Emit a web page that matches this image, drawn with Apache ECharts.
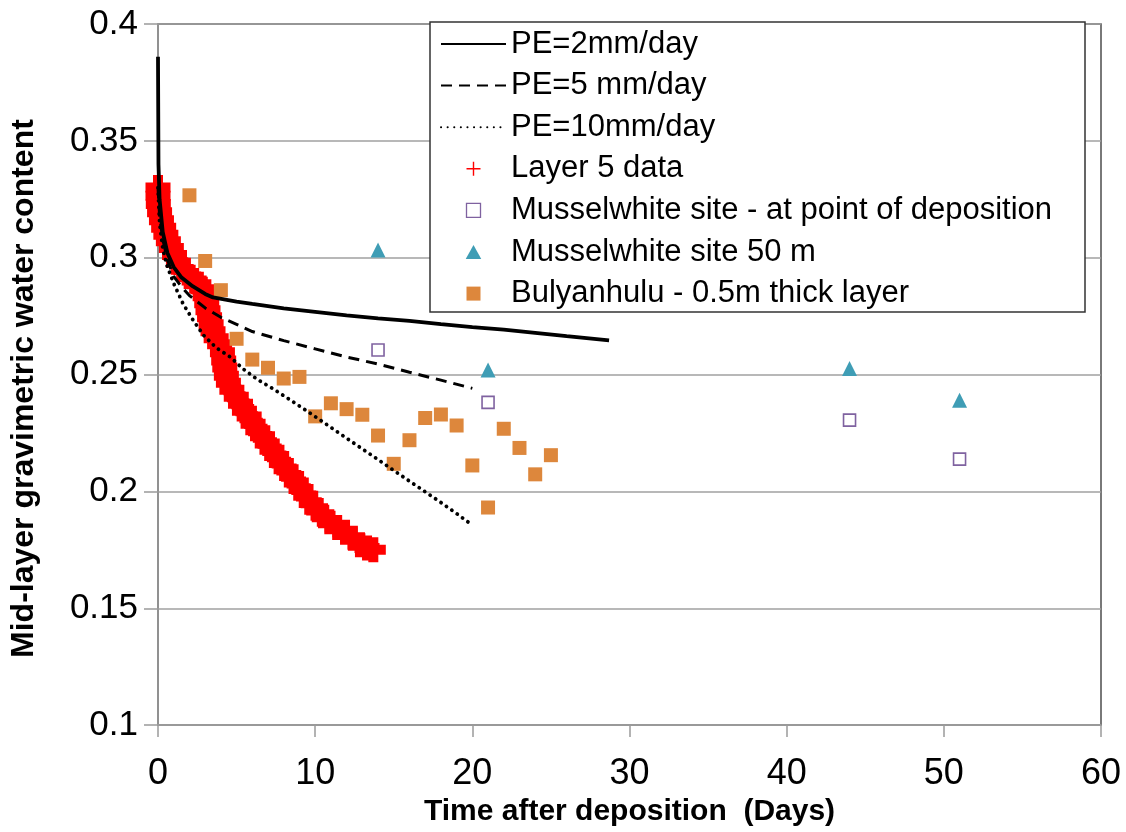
<!DOCTYPE html>
<html><head><meta charset="utf-8">
<script src="https://cdn.jsdelivr.net/npm/echarts@6/dist/echarts.min.js"></script>
<style>html,body{margin:0;padding:0;background:#fff}#c{width:1126px;height:832px}</style>
</head><body><div id="c"></div>
<script>
// ---- data ----
const xTickValues = [0, 10, 20, 30, 40, 50, 60];
const yTickValues = [0.1, 0.15, 0.2, 0.25, 0.3, 0.35, 0.4];
const yTickLabels = ['0.1', '0.15', '0.2', '0.25', '0.3', '0.35', '0.4'];

const seriesNames = ['PE=2mm/day', 'PE=5 mm/day', 'PE=10mm/day', 'Layer 5 data',
  'Musselwhite site - at point of deposition', 'Musselwhite site 50 m', 'Bulyanhulu - 0.5m thick layer'];

const pe2 = [[0,0.386],[0.03,0.340],[0.1,0.325],[0.3,0.311],[0.6,0.302],[1,0.296],[1.5,0.2915],[2.2,0.2878],
  [3,0.2845],[3.5,0.2830],[5,0.2812],[6,0.2802],[8,0.2783],[10,0.2768],[12,0.2753],[14,0.2740],[16,0.2730],
  [18,0.2716],[20,0.2703],[22,0.2692],[24,0.2678],[26,0.2664],[28.7,0.2646]];

const pe5 = [[0,0.330],[0.1,0.318],[0.3,0.308],[0.6,0.299],[1,0.292],[1.5,0.2875],[2,0.2838],[3,0.2785],
  [4,0.2745],[5,0.2715],[6,0.2684],[8,0.2645],[10,0.2610],[12,0.2575],[14,0.2545],[16,0.2510],[18,0.2476],[20,0.2441]];

const pe10 = [[0,0.330],[0.1,0.315],[0.3,0.304],[0.55,0.297],[1,0.289],[1.6,0.2802],[2.25,0.2731],[2.9,0.2668],
  [3.7,0.2615],[4.6,0.2575],[5.4,0.2525],[6.3,0.2480],[7.3,0.2440],[8.4,0.2392],[9.5,0.2343],[10.5,0.2297],
  [11.6,0.2246],[12.6,0.2200],[13.7,0.2150],[14.8,0.2099],[15.8,0.2053],[16.9,0.2003],[17.9,0.1957],
  [18.9,0.1910],[19.85,0.1863]];

const layer5 = [[0,0.3300],[0,0.3265],[0.02,0.3230],[0.1,0.3195],[0.22,0.3160],[0.36,0.3128],[0.5,0.3098],
  [0.66,0.3070],[0.85,0.3042],[1.05,0.3012],[1.3,0.2978],[1.6,0.2948],[1.95,0.2920],[2.3,0.2902],[2.6,0.2886],
  [2.85,0.2865],[3.0,0.2835],[3.1,0.2805],[3.18,0.2775],[3.28,0.2745],[3.38,0.2715],[3.5,0.2685],[3.7,0.2655],
  [3.92,0.2630],[4.1,0.2595],[4.18,0.2560],[4.25,0.2530],[4.35,0.2495],[4.48,0.2465],[4.7,0.2435],[4.98,0.2405],
  [5.25,0.2375],[5.5,0.2345],[5.8,0.2320],[6.05,0.2290],[6.35,0.2262],[6.65,0.2236],[6.95,0.2205],[7.25,0.2178],
  [7.55,0.2151],[7.85,0.2122],[8.15,0.2095],[8.5,0.2066],[8.8,0.2038],[9.1,0.2010],[9.4,0.1981],[9.75,0.1950],
  [10.1,0.1922],[10.5,0.1896],[10.9,0.1870],[11.4,0.1846],[11.9,0.1825],[12.4,0.1800],[12.85,0.1772],
  [13.3,0.1758],[13.7,0.1750]];

const mwDeposition = [[14,0.2605],[21,0.2381],[44,0.2305],[51,0.2138]];
const mw50m = [[14,0.3033],[21,0.2520],[44,0.2526],[51,0.2390]];
const bulyanhulu = [[2,0.3267],[3,0.2986],[4,0.2861],[5,0.2653],[6,0.2564],[7,0.2529],[8,0.2483],[9,0.2490],
  [10,0.2321],[11,0.2377],[12,0.2352],[13,0.2328],[14,0.2239],[15,0.2118],[16,0.2219],[17,0.2314],[18,0.2329],
  [19,0.2282],[20,0.2111],[21,0.1931],[22,0.2268],[23,0.2186],[24,0.2073],[25,0.2155]];

// ---- chart ----
const FONT = '"Liberation Sans", Arial, sans-serif';
const thickPlus = 'path://M30,0H70V30H100V70H70V100H30V70H0V30H30Z';
const thinPlus = 'path://M9,0H11V9H20V11H11V20H9V11H0V9H9Z';
const squareIcon = 'path://M0,0H10V10H0Z';
const triangleIcon = 'path://M5,0L10,9H0Z';
const hideDot = {color: 'rgba(0,0,0,0)', borderWidth: 0, opacity: 0};

const chart = echarts.init(document.getElementById('c'), null, {renderer: 'canvas'});
chart.setOption({
  animation: false,
  backgroundColor: '#fff',
  grid: {left: 158, right: 25, top: 24, bottom: 101, show: true, borderColor: '#4d4d4d', borderWidth: 1.5,
         containLabel: false},
  xAxis: {
    type: 'value', min: xTickValues[0], max: xTickValues[xTickValues.length - 1], interval: 10,
    name: 'Time after deposition  (Days)', nameLocation: 'middle', nameGap: 67,
    nameTextStyle: {fontFamily: FONT, fontSize: 30, fontWeight: 'bold', color: '#000'},
    axisLine: {show: true, onZero: false, lineStyle: {color: '#9a9a9a', width: 1.5}},
    axisTick: {show: true, length: 12, lineStyle: {color: '#9a9a9a', width: 1.5}},
    splitLine: {show: false},
    axisLabel: {fontFamily: FONT, fontSize: 36, color: '#000', margin: 31,
                formatter: v => String(xTickValues[Math.round(v / 10)])}
  },
  yAxis: {
    type: 'value', min: yTickValues[0], max: yTickValues[yTickValues.length - 1], interval: 0.05,
    name: 'Mid-layer gravimetric water content', nameLocation: 'middle', nameGap: 118, nameRotate: 90,
    nameTextStyle: {fontFamily: FONT, fontSize: 32, fontWeight: 'bold', color: '#000', padding: [0, 28, 0, 0]},
    axisLine: {show: true, onZero: false, lineStyle: {color: '#9a9a9a', width: 1.5}},
    axisTick: {show: true, length: 14, lineStyle: {color: '#9a9a9a', width: 1.5}},
    splitLine: {show: true, lineStyle: {color: '#a0a0a0', width: 1.5}},
    axisLabel: {fontFamily: FONT, fontSize: 35, color: '#000', margin: 20,
                formatter: v => yTickLabels[Math.round((v - 0.1) / 0.05)]}
  },
  graphic: [{type: 'rect', z: 5, shape: {x: 430, y: 22, width: 655, height: 290},
             style: {fill: '#fff', stroke: '#333', lineWidth: 1.5}}],
  legend: {
    z: 6, orient: 'vertical', left: 440, top: 28, padding: 0, itemGap: 9.6,
    itemWidth: 65, itemHeight: 14, symbolKeepAspect: true, selectedMode: false,
    textStyle: {fontFamily: FONT, fontSize: 31, color: '#000', lineHeight: 32},
    data: [
      {name: seriesNames[0], itemStyle: hideDot},
      {name: seriesNames[1], itemStyle: hideDot},
      {name: seriesNames[2], itemStyle: hideDot},
      {name: seriesNames[3], icon: thinPlus},
      {name: seriesNames[4], icon: squareIcon, itemStyle: {borderWidth: 1.3}},
      {name: seriesNames[5], icon: triangleIcon},
      {name: seriesNames[6], icon: squareIcon}
    ]
  },
  series: [
    {name: seriesNames[0], type: 'line', data: pe2, symbol: 'none', showSymbol: false,
     lineStyle: {color: '#000', width: 3.8}, itemStyle: {color: '#000'}},
    {name: seriesNames[1], type: 'line', data: pe5, symbol: 'none', showSymbol: false,
     lineStyle: {color: '#000', width: 3, type: [11, 7]}, itemStyle: {color: '#000'}},
    {name: seriesNames[2], type: 'line', data: pe10, symbol: 'none', showSymbol: false,
     lineStyle: {color: '#000', width: 3.8, type: [0.1, 6.5], cap: 'round'}, itemStyle: {color: '#000'}},
    {name: seriesNames[3], type: 'scatter', data: layer5, symbol: thickPlus, symbolSize: 25,
     itemStyle: {color: '#ff0000', opacity: 1}},
    {name: seriesNames[4], type: 'scatter', data: mwDeposition, symbol: 'rect', symbolSize: 12,
     itemStyle: {color: '#fff', borderColor: '#7f62a0', borderWidth: 1.6, opacity: 1}},
    {name: seriesNames[5], type: 'scatter', data: mw50m, symbol: 'triangle', symbolSize: 15,
     itemStyle: {color: '#3f9db5', opacity: 1}},
    {name: seriesNames[6], type: 'scatter', data: bulyanhulu, symbol: 'rect', symbolSize: 14,
     itemStyle: {color: '#dd873c', opacity: 1}}
  ]
});
</script></body></html>
